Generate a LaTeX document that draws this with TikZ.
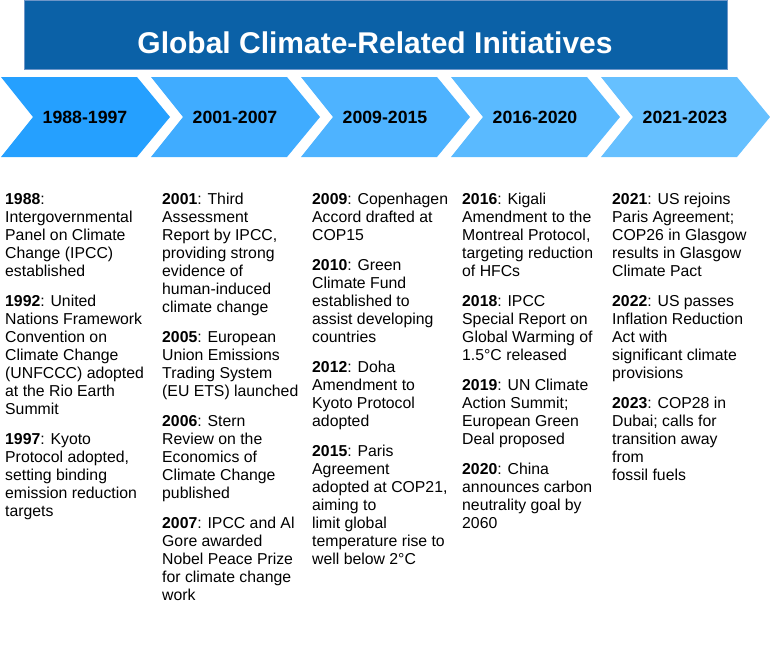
\documentclass[tikz,border=0pt]{standalone}
\usepackage{fontspec}
\setmainfont{Liberation Sans}
\definecolor{titlebg}{RGB}{11,97,167}
\definecolor{titlebd}{RGB}{110,150,200}
\definecolor{cA}{RGB}{37,160,255}
\definecolor{cB}{RGB}{64,172,255}
\definecolor{cC}{RGB}{78,179,255}
\definecolor{cD}{RGB}{90,186,255}
\definecolor{cE}{RGB}{102,192,255}
\tikzset{
  yearlbl/.style={font=\fontsize{17.7}{20}\selectfont\bfseries, text=black, inner sep=0},
  body/.style={anchor=north west, inner sep=0, align=left, text=black, font=\fontsize{15.8}{18}\selectfont},
}
\newcommand{\chev}[2]{%
  \fill[#2] (#1,77) -- ({#1+136},77) -- ({#1+169},117) -- ({#1+136},157) -- (#1,157) -- ({#1+32},117) -- cycle;}
\begin{document}
\begin{tikzpicture}[x=1pt,y=-1pt]
\useasboundingbox (0,0) rectangle (770,645);
\fill[white] (0,0) rectangle (770,645);
% title
\node[draw=titlebd, fill=titlebg, line width=0.8pt, minimum width=703pt, minimum height=69pt, inner sep=0, anchor=north west] (titlebox) at (23.5,0) {};
\node[font=\fontsize{30}{34}\selectfont\bfseries, text=white, anchor=base] (title) at (375,53) {Global Climate-Related Initiatives};
% chevrons
\chev{1}{cA}
\chev{151}{cB}
\chev{301}{cC}
\chev{451}{cD}
\chev{601}{cE}
\node[yearlbl] (y1) at (85,117) {1988-1997};
\node[yearlbl] (y2) at (235,117) {2001-2007};
\node[yearlbl] (y3) at (385,117) {2009-2015};
\node[yearlbl] (y4) at (535,117) {2016-2020};
\node[yearlbl] (y5) at (685,117) {2021-2023};
% columns
\node[body] (col1) at (5,192) {\rule{0pt}{12pt}\textbf{1988}:\\
Intergovernmental\\
Panel on Climate\\
Change (IPCC)\\
established\\[12pt]
\textbf{1992}: United\\
Nations Framework\\
Convention on\\
Climate Change\\
(UNFCCC) adopted\\
at the Rio Earth\\
Summit\\[12pt]
\textbf{1997}: Kyoto\\
Protocol adopted,\\
setting binding\\
emission reduction\\
targets};
\node[body] (col2) at (162,192) {\rule{0pt}{12pt}\textbf{2001}: Third\\
Assessment\\
Report by IPCC,\\
providing strong\\
evidence of\\
human-induced\\
climate change\\[12pt]
\textbf{2005}: European\\
Union Emissions\\
Trading System\\
(EU ETS) launched\\[12pt]
\textbf{2006}: Stern\\
Review on the\\
Economics of\\
Climate Change\\
published\\[12pt]
\textbf{2007}: IPCC and Al\\
Gore awarded\\
Nobel Peace Prize\\
for climate change\\
work};
\node[body] (col3) at (312,192) {\rule{0pt}{12pt}\textbf{2009}: Copenhagen\\
Accord drafted at\\
COP15\\[12pt]
\textbf{2010}: Green\\
Climate Fund\\
established to\\
assist developing\\
countries\\[12pt]
\textbf{2012}: Doha\\
Amendment to\\
Kyoto Protocol\\
adopted\\[12pt]
\textbf{2015}: Paris\\
Agreement\\
adopted at COP21,\\
aiming to\\
limit global\\
temperature rise to\\
well below 2°C};
\node[body] (col4) at (462,192) {\rule{0pt}{12pt}\textbf{2016}: Kigali\\
Amendment to the\\
Montreal Protocol,\\
targeting reduction\\
of HFCs\\[12pt]
\textbf{2018}: IPCC\\
Special Report on\\
Global Warming of\\
1.5°C released\\[12pt]
\textbf{2019}: UN Climate\\
Action Summit;\\
European Green\\
Deal proposed\\[12pt]
\textbf{2020}: China\\
announces carbon\\
neutrality goal by\\
2060};
\node[body] (col5) at (612,192) {\rule{0pt}{12pt}\textbf{2021}: US rejoins\\
Paris Agreement;\\
COP26 in Glasgow\\
results in Glasgow\\
Climate Pact\\[12pt]
\textbf{2022}: US passes\\
Inflation Reduction\\
Act with\\
significant climate\\
provisions\\[12pt]
\textbf{2023}: COP28 in\\
Dubai; calls for\\
transition away\\
from\\
fossil fuels};
\end{tikzpicture}
\end{document}
